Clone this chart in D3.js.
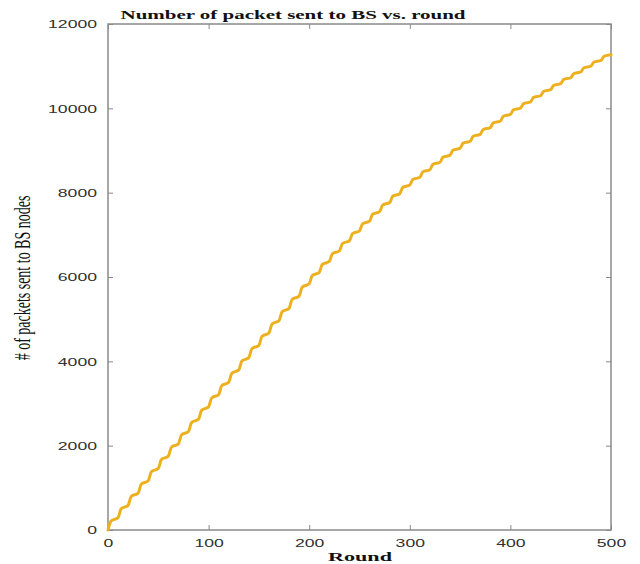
<!DOCTYPE html>
<html>
<head>
<meta charset="utf-8">
<script src="https://cdn.jsdelivr.net/npm/d3@7"></script>
<style>
  html, body { margin: 0; padding: 0; background: #fff; }
  svg { display: block; }
</style>
</head>
<body>
<script>
// Cumulative packets delivered to the base station, sampled within each 10-round cycle
const rounds = [0,3,10,13,20,23,30,33,40,43,50,53,60,63,70,73,80,83,90,93,
  100,103,110,113,120,123,130,133,140,143,150,153,160,163,170,173,180,183,190,193,
  200,203,210,213,220,223,230,233,240,243,250,253,260,263,270,273,280,283,290,293,
  300,303,310,313,320,323,330,333,340,343,350,353,360,363,370,373,380,383,390,393,
  400,403,410,413,420,423,430,433,440,443,450,453,460,463,470,473,480,483,490,493,500];
const packets = [0,210,292,502,584,794,876,1086,1168,1378,1460,1670,1752,1962,2044,2254,2336,2546,2628,2838,
  2920,3130,3212,3422,3504,3714,3796,4006,4088,4298,4380,4590,4672,4882,4964,5174,5256,5466,5548,5758,
  5840,6034,6110,6297,6370,6550,6620,6793,6860,7029,7095,7261,7325,7487,7550,7705,7765,7916,7975,8123,
  8180,8313,8365,8495,8545,8671,8720,8842,8890,9009,9055,9174,9220,9337,9382,9497,9542,9656,9700,9812,
  9855,9963,10005,10112,10153,10258,10299,10403,10443,10545,10585,10686,10725,10824,10863,10962,11000,11097,11135,11231,11269];

const xTicks = [0, 100, 200, 300, 400, 500];
const yTicks = [0, 2000, 4000, 6000, 8000, 10000, 12000];

const titleText = "Number of packet sent to BS vs. round";
const xLabelText = "Round";
const yLabelText = "# of packets sent to BS nodes";

const W = 640, H = 564;
const plot = { left: 108, right: 611, top: 24, bottom: 530 };
const STRETCH = 1.6;           // wide glyph proportions of the figure's text
const axisColor = "#8a8a8a";
const textColor = "#303030";
const lineColor = "#EDB120";

const svg = d3.select("body").append("svg").attr("width", W).attr("height", H);
svg.append("rect").attr("width", W).attr("height", H).attr("fill", "#fff");

const x = d3.scaleLinear().domain([0, 500]).range([plot.left, plot.right]);
const y = d3.scaleLinear().domain([0, 12000]).range([plot.bottom, plot.top]);

// widen a text element horizontally by STRETCH
function widen(sel) {
  sel.each(function () {
    const len = this.getComputedTextLength();
    d3.select(this).attr("textLength", len * STRETCH).attr("lengthAdjust", "spacingAndGlyphs");
  });
}

function styleAxis(g) {
  g.select(".domain").remove();
  g.selectAll(".tick line").attr("stroke", axisColor).attr("stroke-width", 1);
  g.selectAll("text")
    .attr("fill", textColor)
    .style("font-family", "'Liberation Sans', Arial, sans-serif")
    .style("font-size", "11px");
}

// bottom & left axes with inward ticks
const gx = svg.append("g").attr("transform", `translate(0,${plot.bottom})`)
  .call(d3.axisBottom(x).tickValues(xTicks).tickFormat(d3.format("d"))
    .tickSizeInner(-5).tickSizeOuter(0).tickPadding(9));
styleAxis(gx);
gx.selectAll("text").call(widen);

const gy = svg.append("g").attr("transform", `translate(${plot.left},0)`)
  .call(d3.axisLeft(y).tickValues(yTicks).tickFormat(d3.format("d"))
    .tickSizeInner(-5).tickSizeOuter(0).tickPadding(11));
styleAxis(gy);
gy.selectAll("text").attr("dy", "0.36em").call(widen);

// top & right axes: ticks only
const gt = svg.append("g").attr("transform", `translate(0,${plot.top})`)
  .call(d3.axisTop(x).tickValues(xTicks).tickFormat("").tickSizeInner(-5).tickSizeOuter(0));
styleAxis(gt);
const gr = svg.append("g").attr("transform", `translate(${plot.right},0)`)
  .call(d3.axisRight(y).tickValues(yTicks).tickFormat("").tickSizeInner(-5).tickSizeOuter(0));
styleAxis(gr);

// box
svg.append("rect")
  .attr("x", plot.left).attr("y", plot.top)
  .attr("width", plot.right - plot.left).attr("height", plot.bottom - plot.top)
  .attr("fill", "none").attr("stroke", axisColor).attr("stroke-width", 1.5);

// data line
const series = rounds.map((r, i) => ({ r, v: packets[i] }));
svg.append("path")
  .datum(series)
  .attr("fill", "none")
  .attr("stroke", lineColor)
  .attr("stroke-width", 3)
  .attr("stroke-linejoin", "round")
  .attr("stroke-linecap", "round")
  .attr("d", d3.line().x(d => x(d.r)).y(d => y(d.v)).curve(d3.curveMonotoneX));

// title
svg.append("text")
  .attr("x", 293).attr("y", 19)
  .attr("text-anchor", "middle")
  .attr("fill", "#111")
  .style("font-family", "'Liberation Serif', 'DejaVu Serif', serif")
  .style("font-weight", "bold")
  .style("font-size", "13px")
  .attr("textLength", 345).attr("lengthAdjust", "spacingAndGlyphs")
  .text(titleText);

// x label
svg.append("text")
  .attr("x", 360).attr("y", 561)
  .attr("text-anchor", "middle")
  .attr("fill", "#111")
  .style("font-family", "'Liberation Serif', 'DejaVu Serif', serif")
  .style("font-weight", "bold")
  .style("font-size", "12px")
  .attr("textLength", 64).attr("lengthAdjust", "spacingAndGlyphs")
  .text(xLabelText);

// y label (rotated, glyphs widened horizontally)
svg.append("text")
  .attr("transform", `translate(30,278) scale(${STRETCH},1) rotate(-90)`)
  .attr("text-anchor", "middle")
  .attr("fill", "#111")
  .style("font-family", "'Liberation Serif', 'DejaVu Serif', serif")
  .style("font-size", "14px")
  .text(yLabelText);
</script>
</body>
</html>
